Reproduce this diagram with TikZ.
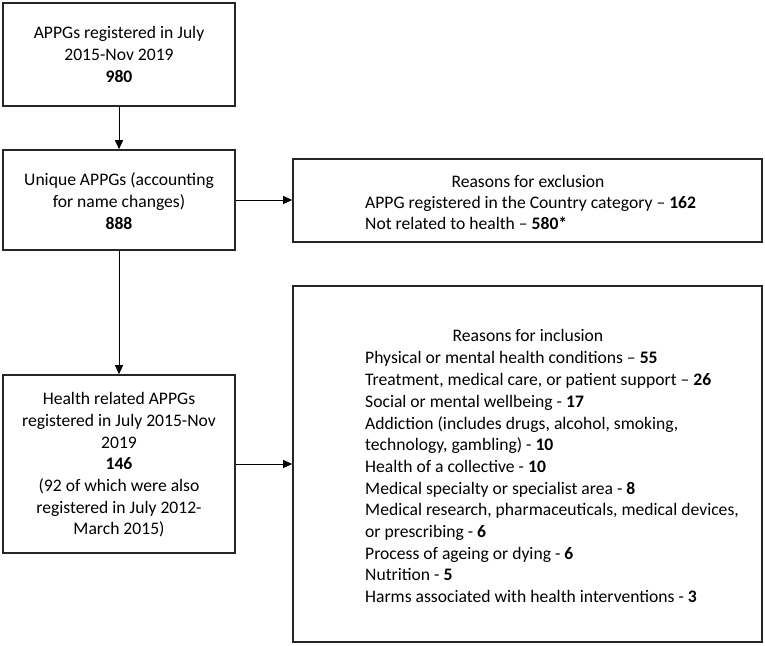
\documentclass[tikz,border=0pt]{standalone}
\usepackage{fontspec}
\setmainfont{Carlito}
\usetikzlibrary{arrows.meta}
\begin{document}
\begin{tikzpicture}[x=1pt,y=-1pt,
  box/.style={draw=black!85, line width=1.6pt, minimum width=#1, inner sep=0pt},
  txt/.style={inner sep=0pt, font=\fontsize{17.6}{21.7}\selectfont},
  conn/.style={line width=1pt, -{Triangle[length=9pt,width=8pt]}},
  plain/.style={line width=1pt}]
\useasboundingbox (0,0) rectangle (765,645);
% boxes
\node[box=232pt, minimum height=103pt] (b1) at (119,54.5) {};
\node[box=232pt, minimum height=100pt] (b2) at (119,200) {};
\node[box=232pt, minimum height=178pt] (b3) at (119,464) {};
\node[box=469pt, minimum height=83pt] (ex) at (527.5,200.5) {};
\node[box=469pt, minimum height=356pt] (in) at (527.5,464) {};
% texts
\node[txt, align=center] (t1) at (b1.center) {APPGs registered in July\\2015-Nov 2019\\\textbf{980}};
\node[txt, align=center] (t2) at (119,201) {Unique APPGs (accounting\\for name changes)\\\textbf{888}};
\node[txt, align=center] (t3) at (119,465) {Health related APPGs\\registered in July 2015-Nov\\2019\\\textbf{146}\\(92 of which were also\\registered in July 2012-\\March 2015)};
\node[txt] (exh) at (528,181) {Reasons for exclusion};
\node[txt, align=left, anchor=west] (exl) at (365,213) {APPG registered in the Country category – \textbf{162}\\Not related to health – \textbf{580*}};
\node[txt] (inh) at (528,335) {Reasons for inclusion};
\node[txt, align=left, anchor=north west] (inl) at (365,351.5) {Physical or mental health conditions – \textbf{55}\\
Treatment, medical care, or patient support – \textbf{26}\\
Social or mental wellbeing - \textbf{17}\\
Addiction (includes drugs, alcohol, smoking,\\
technology, gambling) - \textbf{10}\\
Health of a collective - \textbf{10}\\
Medical specialty or specialist area - \textbf{8}\\
Medical research, pharmaceuticals, medical devices,\\
or prescribing - \textbf{6}\\
Process of ageing or dying - \textbf{6}\\
Nutrition - \textbf{5}\\
Harms associated with health interventions - \textbf{3}};
% connectors
\draw[conn] (b1.south) -- (b2.north);
\draw[conn] (b2.east) -- (b2.east -| ex.west);
\draw[conn] (b2.south) -- (b3.north);
\draw[conn] (b3.east) -- (b3.east -| in.west);
\end{tikzpicture}
\end{document}
